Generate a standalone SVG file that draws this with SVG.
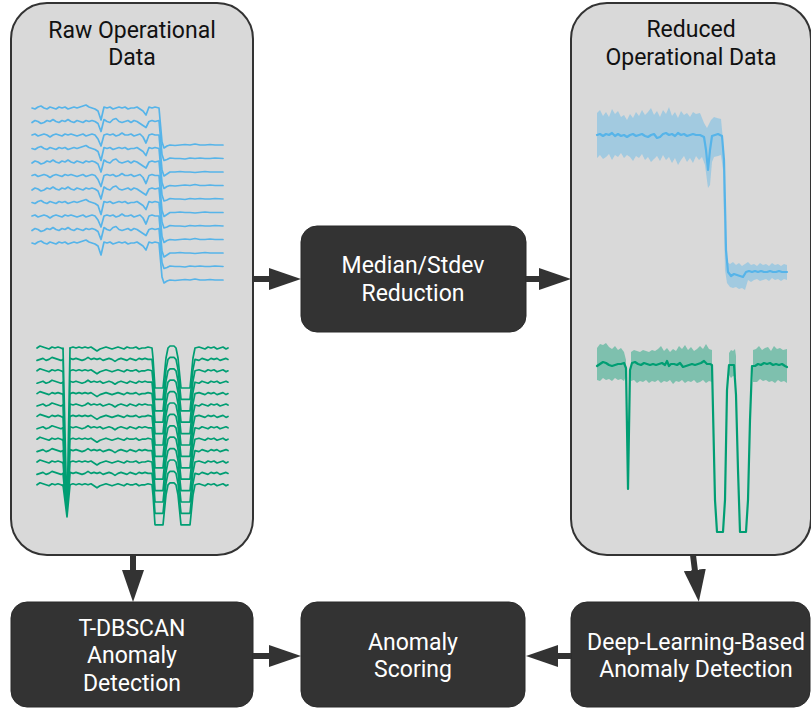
<svg xmlns="http://www.w3.org/2000/svg" xmlns:xlink="http://www.w3.org/1999/xlink" width="811" height="708" viewBox="0 0 811 708">
<style>
.panel{fill:#d9d9d9;stroke:#333333;stroke-width:2}
.box{fill:#333333;stroke:#2a2a2a;stroke-width:1}
.ttl{font-family:Roboto,"Liberation Sans",sans-serif;font-size:23px;fill:#111111;text-anchor:middle}
.lbl{font-family:Roboto,"Liberation Sans",sans-serif;font-size:23px;fill:#ffffff;text-anchor:middle}
.bl{fill:none;stroke:#56B4E9;stroke-width:1.7;stroke-linejoin:round;stroke-linecap:round}
.gr{fill:none;stroke:#009E73;stroke-width:1.7;stroke-linejoin:round;stroke-linecap:round}
.md{stroke-width:2.2}
.blb{fill:#56B4E9;fill-opacity:0.42;stroke:none}
.grb{fill:#009E73;fill-opacity:0.42;stroke:none}
.conn{stroke:#333333;stroke-width:6;fill:none}
</style>
<defs>
<marker id="ah" markerUnits="userSpaceOnUse" viewBox="0 0 32 22" markerWidth="32" markerHeight="22" refX="1" refY="11" orient="auto">
<path d="M0,0 L32,11 L0,22 Z" fill="#333333"/>
</marker>
<path id="bA" d="M32,0 L35,1 L38,-1 L41,-2 L44,0 L47,1 L50,-1 L53,0 L56,1 L59,-1 L62,0 L65,-1 L68,1 L71,0 L74,-1 L77,0 L80,-1 L83,-2 L86,-3 L89,-1 L92,0 L95,1 L98,3 L101,12 L104,-1 L107,0 L110,-1 L113,1 L116,0 L119,-1 L122,0 L125,-1 L128,1 L131,0 L134,0 L137,-1 L140,1 L143,3 L146,7 L149,-1 L152,0 L155,-1 L159,0 L162,34 L164,40 L167,38 L170,37 L175,37.5 L180,37 L185,36.5 L190,37 L195,36 L200,37 L205,37 L210,36.5 L215,37 L223,37"/>
<path id="bB" d="M32,1 L35,-1 L38,0 L41,2 L44,1 L47,-1 L50,0 L53,-2 L56,0 L59,1 L62,-1 L65,0 L68,-2 L71,0 L74,1 L77,-1 L80,0 L83,1 L86,-1 L89,0 L92,-1 L95,0 L98,2 L101,10 L104,-2 L107,0 L110,1 L113,-2 L116,-3 L119,0 L122,1 L125,0 L128,-1 L131,1 L134,-1 L137,0 L140,2 L143,4 L146,6 L149,0 L152,-1 L155,0 L159,-1 L162,33 L164,39 L167,38 L170,36.5 L175,37 L180,37 L185,37.5 L190,36.5 L195,37 L200,36.5 L205,37 L210,37 L215,36.5 L223,37"/>
<path id="bC" d="M32,0 L35,-1 L38,1 L41,0 L44,-1 L47,0 L50,2 L53,0 L56,-1 L59,0 L62,1 L65,-1 L68,0 L71,-1 L74,0 L77,1 L80,0 L83,-1 L86,1 L89,0 L92,-1 L95,0 L98,4 L101,11 L104,0 L107,-1 L110,0 L113,-1 L116,1 L119,0 L122,-2 L125,0 L128,0 L131,-1 L134,1 L137,0 L140,-1 L143,2 L146,8 L149,0 L152,-1 L155,0 L159,0 L162,35 L164,41 L167,39 L170,37 L175,37 L180,36.5 L185,37 L190,37 L195,37.5 L200,37 L205,36.5 L210,37 L215,37 L223,37"/>
<path id="gA" d="M37,0 L40,-2 L43,-1 L46,0 L49,1 L52,-1 L55,0 L58,-1 L61,0 L63,1 M70,0 L73,-1 L76,0 L79,-1 L82,0 L85,-1 L88,0 L91,-1 L94,1 L97,3 L100,1 L103,0 L106,-1 L109,0 L112,1 L115,0 L118,-1 L121,0 L124,1 L127,-1 L130,0 L133,0 L136,-1 L139,1 L142,0 L145,0 L148,-1 L152,0 L153,10 L155,40 L163,40 L166,10 L168,0 L170,-2 L174,-2 L176,0 L178,10 L181,40 L190,40 L193,10 L195,0 L199,-1 L202,0 L205,1 L208,-1 L211,0 L214,-1 L217,1 L220,0 L223,-1 L226,1 L228,0"/>
<path id="gB" d="M37,1 L40,0 L43,-1 L46,1 L49,0 L52,-2 L55,-1 L58,0 L61,1 L63,0 M70,-1 L73,0 L76,-1 L79,0 L82,1 L85,0 L88,-2 L91,0 L94,-1 L97,0 L100,-1 L103,1 L106,0 L109,-1 L112,0 L115,2 L118,0 L121,-1 L124,0 L127,1 L130,-1 L133,0 L136,1 L139,-1 L142,0 L145,-1 L148,0 L152,0 L153,10 L155,40 L163,40 L166,10 L168,0 L170,-2 L174,-2 L176,0 L178,10 L181,40 L190,40 L193,10 L195,0 L199,1 L202,-1 L205,0 L208,1 L211,-1 L214,0 L217,-1 L220,1 L223,0 L226,-1 L228,0"/>
</defs>

<g id="raw-data">
<rect class="panel" x="11" y="3" width="242" height="552" rx="36" ry="36"/>
<text class="ttl" x="132" y="38">Raw Operational</text>
<text class="ttl" x="132" y="65">Data</text>
<g id="raw-blue">
<use xlink:href="#bA" class="bl" transform="translate(0,108)"/>
<use xlink:href="#bB" class="bl" transform="translate(0,121.5)"/>
<use xlink:href="#bC" class="bl" transform="translate(0,135)"/>
<use xlink:href="#bA" class="bl" transform="translate(0,148.5)"/>
<use xlink:href="#bB" class="bl" transform="translate(0,162)"/>
<use xlink:href="#bC" class="bl" transform="translate(0,175.5)"/>
<use xlink:href="#bB" class="bl" transform="translate(0,189)"/>
<use xlink:href="#bA" class="bl" transform="translate(0,202.5)"/>
<use xlink:href="#bC" class="bl" transform="translate(0,216)"/>
<use xlink:href="#bB" class="bl" transform="translate(0,229.5)"/>
<use xlink:href="#bA" class="bl" transform="translate(0,243)"/>
</g>
<g id="raw-green">
<use xlink:href="#gA" class="gr" transform="translate(0,348)"/>
<use xlink:href="#gB" class="gr" transform="translate(0,359.4)"/>
<use xlink:href="#gA" class="gr" transform="translate(0,370.8)"/>
<use xlink:href="#gB" class="gr" transform="translate(0,382.2)"/>
<use xlink:href="#gA" class="gr" transform="translate(0,393.6)"/>
<use xlink:href="#gB" class="gr" transform="translate(0,405)"/>
<use xlink:href="#gA" class="gr" transform="translate(0,416.4)"/>
<use xlink:href="#gB" class="gr" transform="translate(0,427.8)"/>
<use xlink:href="#gA" class="gr" transform="translate(0,439.2)"/>
<use xlink:href="#gB" class="gr" transform="translate(0,450.6)"/>
<use xlink:href="#gA" class="gr" transform="translate(0,462)"/>
<use xlink:href="#gB" class="gr" transform="translate(0,473.4)"/>
<use xlink:href="#gA" class="gr" transform="translate(0,484.8)"/>
<path class="gr" d="M63,348 L67,517 L70,348 M63,359.4 L67,517 L70,359.4 M63,370.8 L67,517 L70,370.8 M63,382.2 L67,517 L70,382.2 M63,393.6 L67,517 L70,393.6 M63,405 L67,517 L70,405 M63,416.4 L67,517 L70,416.4 M63,427.8 L67,517 L70,427.8 M63,439.2 L67,517 L70,439.2 M63,450.6 L67,517 L70,450.6 M63,462 L67,517 L70,462 M63,473.4 L67,517 L70,473.4 M63,484.8 L67,517 L70,484.8"/>
</g>
</g>

<g id="reduced-data">
<rect class="panel" x="571" y="3" width="240" height="552" rx="36" ry="36"/>
<text class="ttl" x="691" y="37">Reduced</text>
<text class="ttl" x="691" y="65">Operational Data</text>
<path class="blb" d="M597,113 L600,110 L603,116 L606,112 L609,117 L612,109 L615,114 L618,111 L621,117 L624,115 L627,120 L630,114 L633,118 L636,112 L639,116 L642,110 L645,115 L648,112 L651,108 L654,115 L657,111 L660,117 L663,110 L666,114 L669,107 L672,116 L675,112 L678,118 L681,111 L684,115 L687,113 L690,117 L693,112 L696,114 L700,113 L704,123 L707,128 L709,124 L711,120 L714,117 L717,118 L721,119 L723,140 L725,240 L727,262 L730,264 L733,262 L736,265 L739,263 L742,266 L745,264 L748,262 L751,265 L754,264 L757,266 L760,263 L763,265 L766,264 L769,266 L772,263 L775,265 L778,264 L781,266 L784,264 L787,265 L787,280 L784,279 L781,281 L778,279 L775,280 L772,278 L769,281 L766,279 L763,280 L760,281 L757,279 L754,280 L751,282 L748,280 L745,290 L742,288 L739,289 L736,287 L733,288 L730,287 L727,283 L725,270 L723,170 L721,155 L718,156 L714,157 L712,162 L710,185 L708,188 L705,165 L702,157 L699,160 L696,156 L693,163 L690,158 L687,162 L684,156 L681,160 L678,165 L675,158 L672,163 L669,157 L666,160 L663,155 L660,161 L657,156 L654,159 L651,162 L648,157 L645,160 L642,154 L639,158 L636,156 L633,161 L630,157 L627,155 L624,158 L621,153 L618,157 L615,155 L612,160 L609,154 L606,157 L603,159 L600,155 L597,158 Z"/>
<path class="bl md" d="M597,135 L600,134 L603,136 L606,134 L609,135 L612,133 L615,136 L618,134 L621,136 L624,135 L627,137 L630,135 L633,134 L636,136 L639,135 L642,134 L645,136 L648,137 L651,135 L654,134 L657,138 L660,137 L663,134 L666,133 L669,135 L672,134 L675,136 L678,133 L681,135 L684,134 L687,136 L690,135 L693,134 L696,135 L700,135 L704,137 L706,150 L708,170 L710,150 L712,136 L715,135 L718,134 L722,136 L724,160 L726,250 L728,272 L731,276 L734,274 L737,275 L740,276 L743,277 L746,272 L749,271 L752,272 L755,271 L758,272 L761,271 L764,272 L767,272 L770,271 L773,272 L776,272 L779,271 L782,272 L787,272"/>
<path class="grb" d="M597,348 L600,344 L603,345 L606,343 L609,347 L612,349 L615,346 L618,350 L621,348 L624,352 L626,360 L626,376 L624,381 L621,379 L618,380 L615,378 L612,381 L609,379 L606,380 L603,378 L600,381 L597,380 Z M631,352 L634,350 L637,351 L640,352 L643,350 L646,351 L649,352 L652,350 L655,351 L658,349 L661,346 L664,351 L667,348 L670,352 L673,349 L676,351 L679,346 L682,349 L685,345 L688,350 L691,347 L694,351 L697,349 L700,346 L703,349 L706,344 L709,349 L712,350 L712,382 L709,381 L706,383 L703,380 L700,382 L697,383 L694,380 L691,382 L688,381 L685,383 L682,380 L679,382 L676,381 L673,384 L670,380 L667,382 L664,381 L661,383 L658,380 L655,382 L652,381 L649,383 L646,380 L643,382 L640,381 L637,383 L634,380 L631,381 Z M729,353 L731,350 L733,351 L735,349 L736,356 L736,377 L733,376 L731,378 L729,375 Z M753,350 L756,349 L759,346 L762,350 L765,348 L768,347 L771,351 L774,346 L777,349 L780,348 L783,350 L787,349 L787,383 L784,381 L781,382 L778,380 L775,383 L772,381 L769,382 L766,380 L763,381 L760,379 L757,382 L753,382 Z"/>
<path class="gr md" d="M597,366 L600,364 L603,362 L606,363 L609,365 L612,366 L615,365 L618,364 L621,364 L624,363 L626,368 L628,489 L630,370 L632,363 L635,362 L638,364 L641,365 L644,363 L647,364 L650,365 L653,364 L656,365 L659,364 L662,363 L665,365 L667,361 L669,366 L671,364 L674,364 L677,365 L680,363 L683,367 L686,366 L689,365 L692,364 L695,365 L698,364 L701,363 L704,361 L707,364 L710,364 L712,365 L715,500 L717,532 L723,532 L725,500 L727,390 L729,365 L734,365 L736,395 L738,470 L740,532 L746,532 L748,500 L750,420 L752,366 L755,366 L758,364 L761,365 L764,363 L767,364 L770,363 L773,365 L776,364 L779,365 L782,364 L785,366 L787,367"/>
</g>

<g id="median-stdev-reduction">
<rect class="box" x="301" y="226" width="225" height="106" rx="16" ry="16"/>
<text class="lbl" x="413" y="273">Median/Stdev</text>
<text class="lbl" x="413" y="301">Reduction</text>
</g>

<g id="t-dbscan">
<rect class="box" x="11" y="602" width="242" height="105" rx="16" ry="16"/>
<text class="lbl" x="132" y="636">T-DBSCAN</text>
<text class="lbl" x="132" y="663">Anomaly</text>
<text class="lbl" x="132" y="691">Detection</text>
</g>

<g id="anomaly-scoring">
<rect class="box" x="301" y="602" width="224" height="105" rx="16" ry="16"/>
<text class="lbl" x="413" y="650">Anomaly</text>
<text class="lbl" x="413" y="677">Scoring</text>
</g>

<g id="deep-learning">
<rect class="box" x="571" y="602" width="239" height="105" rx="16" ry="16"/>
<text class="lbl" x="696" y="650">Deep-Learning-Based</text>
<text class="lbl" x="696" y="677">Anomaly Detection</text>
</g>

<g id="connectors">
<line class="conn" x1="253" y1="279" x2="270" y2="279" marker-end="url(#ah)"/>
<line class="conn" x1="526" y1="279" x2="540" y2="279" marker-end="url(#ah)"/>
<line class="conn" x1="133" y1="555" x2="133" y2="571" marker-end="url(#ah)"/>
<line class="conn" x1="693" y1="555" x2="695" y2="571" marker-end="url(#ah)"/>
<line class="conn" x1="253" y1="656" x2="270" y2="656" marker-end="url(#ah)"/>
<line class="conn" x1="571" y1="656" x2="557" y2="656" marker-end="url(#ah)"/>
</g>
</svg>
